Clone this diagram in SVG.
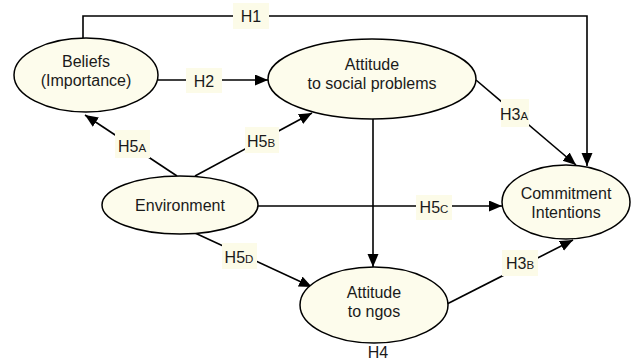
<svg xmlns="http://www.w3.org/2000/svg" width="636" height="363" viewBox="0 0 636 363">
<style>
.node ellipse{fill:#fdfcec;stroke:#000;stroke-width:1.5}
.t{font-family:"Liberation Sans",Arial,sans-serif;font-size:16px;fill:#1a1a1a;text-anchor:middle}
.c line,.c polyline{stroke:#000;stroke-width:1.6;fill:none}
.lb{fill:#fcfbe8}
.s{font-size:11.5px}
</style>
<defs>
<marker id="ah" markerUnits="userSpaceOnUse" markerWidth="14" markerHeight="12" refX="13" refY="5.5" orient="auto">
<path d="M0,0 L13,5.5 L0,11 z" fill="#000"/>
</marker>
</defs>
<g id="connectors" class="c">
<polyline points="83,38 83,16 587,16 587,166" marker-end="url(#ah)"/>
<line x1="158" y1="80" x2="268" y2="80" marker-end="url(#ah)"/>
<line x1="177" y1="176" x2="85" y2="115" marker-end="url(#ah)"/>
<line x1="195" y1="176" x2="312" y2="113" marker-end="url(#ah)"/>
<line x1="476" y1="80" x2="576" y2="165" marker-end="url(#ah)"/>
<line x1="373" y1="118" x2="373" y2="267" marker-end="url(#ah)"/>
<line x1="258" y1="206" x2="502" y2="206" marker-end="url(#ah)"/>
<line x1="195" y1="233" x2="312" y2="287" marker-end="url(#ah)"/>
<line x1="447" y1="304" x2="573" y2="240" marker-end="url(#ah)"/>
<rect class="lb" x="233" y="3" width="36" height="26"/>
<text class="t" x="251" y="22">H1</text>
<rect class="lb" x="186" y="68" width="36" height="25"/>
<text class="t" x="204" y="87">H2</text>
<rect class="lb" x="115" y="130" width="35" height="28"/>
<text class="t" x="132" y="152">H5<tspan class="s">A</tspan></text>
<rect class="lb" x="245" y="127" width="34" height="26"/>
<text class="t" x="261" y="147">H5<tspan class="s">B</tspan></text>
<rect class="lb" x="501" y="99" width="28" height="28"/>
<text class="t" x="514" y="120">H3<tspan class="s">A</tspan></text>
<rect class="lb" x="416" y="195" width="36" height="25"/>
<text class="t" x="434" y="213">H5<tspan class="s">C</tspan></text>
<rect class="lb" x="222" y="243" width="35" height="26"/>
<text class="t" x="239" y="263">H5<tspan class="s">D</tspan></text>
<rect class="lb" x="502" y="250" width="36" height="26"/>
<text class="t" x="520" y="269">H3<tspan class="s">B</tspan></text>
<text class="t" x="378" y="358">H4</text>
</g>
<g id="beliefs" class="node">
<ellipse cx="86" cy="75" rx="72" ry="37"/>
<text class="t" x="86" y="67">Beliefs</text>
<text class="t" x="86" y="86">(Importance)</text>
</g>
<g id="attitude-social" class="node">
<ellipse cx="372" cy="79" rx="104" ry="40"/>
<text class="t" x="372" y="70">Attitude</text>
<text class="t" x="372" y="89">to social problems</text>
</g>
<g id="environment" class="node">
<ellipse cx="180" cy="205" rx="78" ry="29"/>
<text class="t" x="180" y="211">Environment</text>
</g>
<g id="commitment" class="node">
<ellipse cx="566" cy="202" rx="64" ry="37"/>
<text class="t" x="566" y="199">Commitment</text>
<text class="t" x="566" y="218">Intentions</text>
</g>
<g id="attitude-ngos" class="node">
<ellipse cx="374" cy="305" rx="74" ry="38"/>
<text class="t" x="374" y="298">Attitude</text>
<text class="t" x="374" y="317">to ngos</text>
</g>
</svg>
